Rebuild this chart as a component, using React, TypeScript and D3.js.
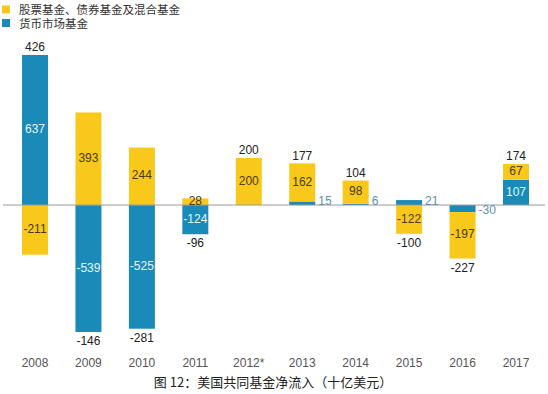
import React from 'react';
import * as d3 from 'd3';

// chart is 548 x 394, drawn at the top-left of the page
const W = 548;
const H = 394;
const BAR_W = 26;

const YELLOW = '#f8c91a';
const BLUE = '#1a8ab8';

const years = ['2008', '2009', '2010', '2011', '2012*', '2013', '2014', '2015', '2016', '2017'];
// 股票基金、债券基金及混合基金
const stockBond = [-211, 393, 244, 28, 200, 162, 98, -122, -197, 67];
// 货币市场基金
const moneyMarket = [637, -539, -525, -124, 0, 15, 6, 21, -30, 107];
const totals = [426, -146, -281, -96, 200, 177, 104, -100, -227, 174];

const legendLabels = ['股票基金、债券基金及混合基金', '货币市场基金'];
const caption = '图 12：美国共同基金净流入（十亿美元）';

const numFont = '"Liberation Sans", "DejaVu Sans", sans-serif';
const cjkFont = '"Noto Sans CJK SC", sans-serif';

export default function App() {
  const rows = years.map((y, i) => ({ year: y, money: moneyMarket[i], stock: stockBond[i], total: totals[i] }));

  const stack = d3.stack<any>()
    .keys(['money', 'stock'])
    .offset(d3.stackOffsetDiverging);
  const series = stack(rows);

  const x = d3.scalePoint<string>().domain(years).range([35, 516]);
  const y = d3.scaleLinear().domain([-539, 637]).range([332, 55]);

  const colors: Record<string, string> = { money: BLUE, stock: YELLOW };
  const LEG_STEP = 13.5;

  return (
    <svg width={W} height={H} viewBox={`0 0 ${W} ${H}`} style={{ position: 'absolute', left: 0, top: 0, background: '#fff' }}>
      {/* legend: one text block, two lines */}
      {legendLabels.map((t, i) => (
        <rect key={t} x={2} y={5.5 + i * LEG_STEP} width={8} height={8} fill={i === 0 ? YELLOW : BLUE} />
      ))}
      <text fontSize={11.5} fill="#333" fontFamily={cjkFont}>
        {legendLabels.map((t, i) => (
          <tspan key={t} x={19} y={14 + i * LEG_STEP}>{t}</tspan>
        ))}
      </text>

      {/* bars */}
      {series.map((s) => (
        <g key={s.key} fill={colors[s.key]}>
          {s.map((d, i) => {
            const y0 = y(Math.max(d[0], d[1]));
            const y1 = y(Math.min(d[0], d[1]));
            if (y1 - y0 <= 0) return null;
            return <rect key={i} x={x(years[i])! - BAR_W / 2} y={y0} width={BAR_W} height={y1 - y0} />;
          })}
        </g>
      ))}

      {/* zero line */}
      <line x1={3} x2={545} y1={y(0)} y2={y(0)} stroke="#9a9a9a" strokeWidth={1} />

      {/* segment labels */}
      {series.map((s) => s.map((d, i) => {
        const v = (d.data as any)[s.key] as number;
        if (v === 0) return null;
        const cx = x(years[i])!;
        const mid = y((d[0] + d[1]) / 2);
        if (s.key === 'money' && Math.abs(v) < 50) {
          return (
            <text key={`${s.key}-${i}`} x={cx + BAR_W / 2 + 3} y={v > 0 ? y(0) - 3 : mid + 2} dominantBaseline="middle"
              fontSize={12} fill="#5b8fae" fontFamily={numFont}>{v}</text>
          );
        }
        return (
          <text key={`${s.key}-${i}`} x={cx} y={mid} textAnchor="middle" dominantBaseline="middle" fontSize={12}
            fill={s.key === 'money' ? '#e6f7ff' : '#4a3a10'} fontFamily={numFont}>{v}</text>
        );
      }))}

      {/* totals */}
      {rows.map((r, i) => {
        const top = d3.max(series, (s) => s[i][1]) as number;
        const bottom = d3.min(series, (s) => s[i][0]) as number;
        const ty = r.total > 0 ? y(top) - 7 : y(bottom) + 10;
        return (
          <text key={r.year} x={x(r.year)} y={ty} textAnchor="middle" dominantBaseline="middle" fontSize={12}
            fill="#222" fontFamily={numFont}>{r.total}</text>
        );
      })}

      {/* year labels */}
      {years.map((yr) => (
        <text key={yr} x={x(yr)} y={364} textAnchor="middle" dominantBaseline="middle" fontSize={12}
          fill="#555" fontFamily={numFont}>{yr}</text>
      ))}

      <text x={273} y={383} textAnchor="middle" dominantBaseline="middle" fontSize={13} fill="#222" fontFamily={cjkFont}>{caption}</text>
    </svg>
  );
}
